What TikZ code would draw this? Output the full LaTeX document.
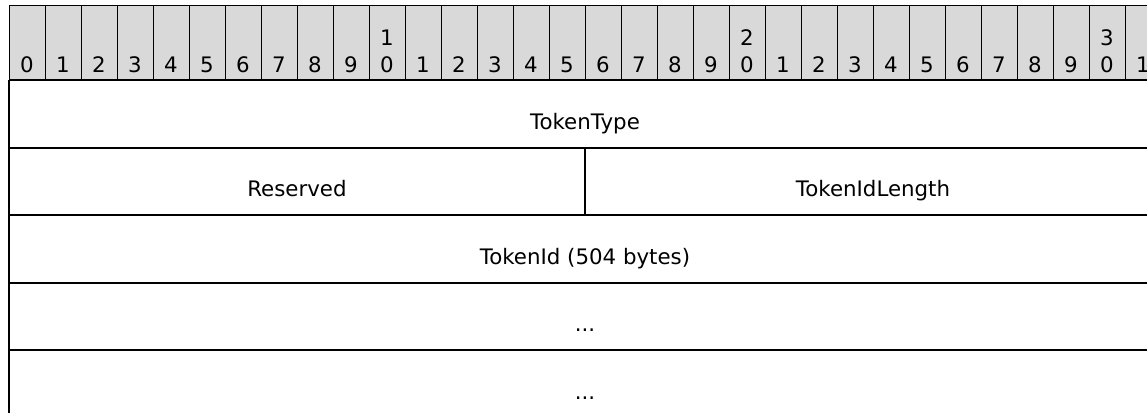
\documentclass[tikz,border=0pt]{standalone}
\usepackage{fontspec}
\setmainfont{DejaVu Sans}
\definecolor{hdr}{RGB}{217,217,217}
\begin{document}
\begin{tikzpicture}[x=0.75pt,y=-0.75pt,
  thinline/.style={line width=0.75pt},
  thickline/.style={line width=1.5pt},
  lbl/.style={font=\fontsize{16}{19}\selectfont, anchor=base, inner sep=0pt}]
\useasboundingbox (0,0) rectangle (1147,412);
\clip (0,0) rectangle (1147,412);
% header
\fill[hdr] (9,5) rectangle (1161,80);
\foreach \i in {0,...,31} {
  \draw[thinline] ({9+36*\i},5) rectangle ({45+36*\i},80);
  \pgfmathtruncatemacro\tens{int(\i/10)}
  \pgfmathtruncatemacro\units{mod(\i,10)}
  \node[lbl] (h\i) at ({27+36*\i},72) {\units};
  \ifnum\units=0 \ifnum\i>0
    \node[lbl] (t\i) at ({27+36*\i},45) {\tens};
  \fi\fi
}
% rows
\foreach \y in {80,147.5,215,282.5,350} {
  \draw[thickline] (9,\y) -- (1161,\y);
}
\draw[thickline] (9,80) -- (9,420);
\draw[thickline] (1161,80) -- (1161,420);
\draw[thickline] (585,147.5) -- (585,215);
% labels
\node[lbl] (tokentype) at (585,129) {TokenType};
\node[lbl] (reserved) at (297,196.5) {Reserved};
\node[lbl] (tokenidlength) at (873,196.5) {TokenIdLength};
\node[lbl] (tokenid) at (585,264) {TokenId (504 bytes)};
\node[lbl] (dots1) at (585,331.5) {...};
\node[lbl] (dots2) at (585,399) {...};
\end{tikzpicture}
\end{document}
